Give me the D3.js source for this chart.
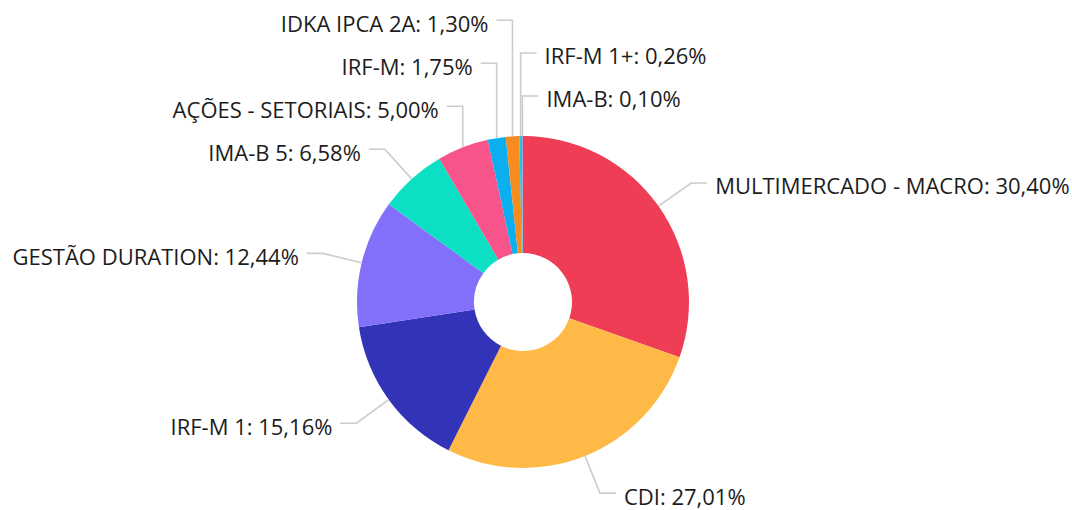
<!DOCTYPE html>
<html>
<head>
<meta charset="utf-8">
<script src="https://cdn.jsdelivr.net/npm/d3@7"></script>
<style>
  body { margin: 0; background: #fff; }
  .slice-label { font-family: 'Open Sans', sans-serif; font-size: 22px; fill: #1c1c1c; }
  .tick-line { fill: none; stroke: #cccccc; stroke-width: 1.6; }
</style>
</head>
<body>
<svg width="1072" height="510"></svg>
<script>
// categories and shares (%) in the order drawn, clockwise from the top
var categories = ['MULTIMERCADO - MACRO', 'CDI', 'IRF-M 1', 'GESTÃO DURATION', 'IMA-B 5',
    'AÇÕES - SETORIAIS', 'IRF-M', 'IDKA IPCA 2A', 'IRF-M 1+', 'IMA-B'];
var shares = [30.40, 27.01, 15.16, 12.44, 6.58, 5.00, 1.75, 1.30, 0.26, 0.10];
var colors = ['#ef3d55', '#ffb946', '#3333b7', '#8270fa', '#0ce0c4',
    '#f7548b', '#0baff0', '#f68c20', '#1cc6df', '#9e9ad8'];

var svg = d3.select('svg');
var cx = 523, cy = 302;
var outerR = 166, innerR = 49;
var tickR = outerR + 40;   // where the leader line bends
var gap = 43;              // minimum vertical distance between labels

var data = categories.map(function(c, i) {
    return {name: c, value: shares[i], color: colors[i]};
});

var pie = d3.pie().sort(null).value(function(d) { return d.value; });
var arcs = pie(data);

var arc = d3.arc().innerRadius(innerR).outerRadius(outerR);

var g = svg.append('g').attr('transform', 'translate(' + cx + ',' + cy + ')');

g.selectAll('.slice')
    .data(arcs)
    .enter()
    .append('path')
    .attr('class', 'slice')
    .attr('d', arc)
    .style('fill', function(d) { return d.data.color; });

// label layout
var fmt = function(v) { return v.toFixed(2).replace('.', ',') + '%'; };
arcs.forEach(function(d) {
    d.mid = (d.startAngle + d.endAngle) / 2;
    // slices right at the top go to the emptier right side
    d.right = Math.sin(d.mid) >= 0 || d.mid > 2 * Math.PI - 0.03;
    d.ang = d.mid > Math.PI && d.right ? d.mid - 2 * Math.PI : d.mid;
    d.bx = tickR * Math.sin(d.mid);
    d.by = -tickR * Math.cos(d.mid);
    d.ax = outerR * Math.sin(d.mid);
    d.ay = -outerR * Math.cos(d.mid);
    d.ly = d.by;
});

// push crowded labels apart, walking away from the horizontal middle
function spread(list, dir) {
    for (var i = 1; i < list.length; i++) {
        if (dir < 0) list[i].ly = Math.min(list[i].by, list[i - 1].ly - gap);
        else list[i].ly = Math.max(list[i].by, list[i - 1].ly + gap);
    }
}
var rightSide = arcs.filter(function(d) { return d.right; });
var leftSide = arcs.filter(function(d) { return !d.right; });
spread(rightSide.filter(function(d) { return d.by < 0; }).sort(function(a, b) { return b.ang - a.ang; }), -1);
spread(rightSide.filter(function(d) { return d.by >= 0; }).sort(function(a, b) { return a.ang - b.ang; }), 1);
spread(leftSide.filter(function(d) { return d.by < 0; }).sort(function(a, b) { return a.ang - b.ang; }), -1);
spread(leftSide.filter(function(d) { return d.by >= 0; }).sort(function(a, b) { return b.ang - a.ang; }), 1);

function bendX(d) { return d.ly === d.by ? d.bx : d.ax; }

g.selectAll('.tick-line')
    .data(arcs)
    .enter()
    .append('polyline')
    .attr('class', 'tick-line')
    .attr('points', function(d) {
        var bx = bendX(d);
        var ex = d.right ? Math.max(bx, d.ax) + 16 : Math.min(bx, d.ax) - 16;
        return [[d.ax, d.ay], [bx, d.ly], [ex, d.ly]].join(' ');
    });

g.selectAll('.slice-label')
    .data(arcs)
    .enter()
    .append('text')
    .attr('class', 'slice-label')
    .attr('x', function(d) {
        var bx = bendX(d);
        return d.right ? Math.max(bx, d.ax) + 24 : Math.min(bx, d.ax) - 24;
    })
    .attr('y', function(d) { return d.ly; })
    .attr('dy', '0.52em')
    .attr('text-anchor', function(d) { return d.right ? 'start' : 'end'; })
    .text(function(d) { return d.data.name + ': ' + fmt(d.data.value); });
</script>
</body>
</html>
